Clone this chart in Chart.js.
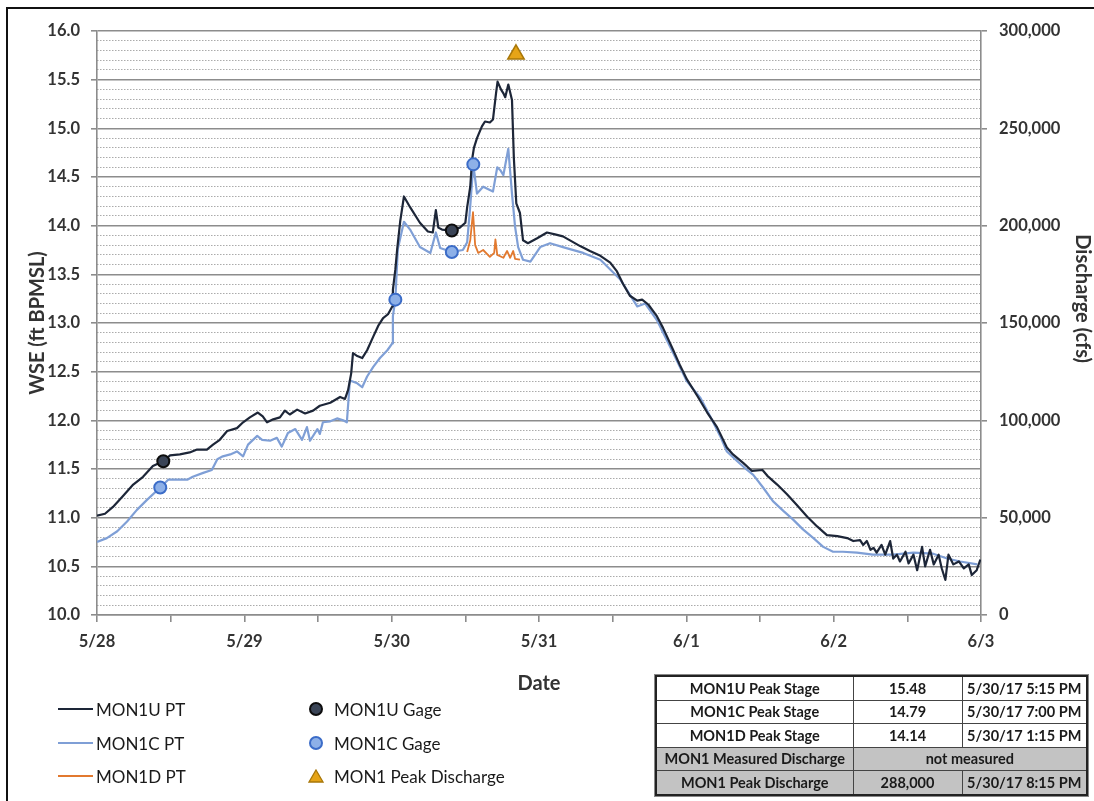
<!DOCTYPE html>
<html>
<head>
<meta charset="utf-8">
<title>MON1 Stage and Discharge</title>
<script src="https://cdn.jsdelivr.net/npm/chart.js@4.4.1/dist/chart.umd.min.js"></script>
<style>
  body { margin: 0; background: #fff; font-family: Lato, "Open Sans", sans-serif; }
  #wrap { position: relative; width: 1094px; height: 801px; overflow: hidden; background: #fff; }
  #frame { position: absolute; left: 6px; top: 7px; width: 1200px; height: 900px; border: 2.5px solid #111; box-sizing: border-box; }
  #chart { position: absolute; left: 0; top: 0; }
  .leg { position: absolute; height: 22px; display: flex; align-items: center; font-size: 17px; color: #1a1a1a; white-space: nowrap; }
  .leg .swatch { display: inline-block; }
  #peaks { position: absolute; left: 655px; top: 675px; width: 433px; border-collapse: collapse; border: 2.5px solid #222; box-shadow: 0 0 0 1px #888; font-size: 14.5px; font-weight: bold; color: #1a1a1a; }
  #peaks td { border: 1px solid #444; height: 22.5px; padding: 0; text-align: center; }
  #peaks tr.shade td { background: #c3c3c3; }
</style>
</head>
<body>
<div id="wrap">
  <div id="frame"></div>
  <canvas id="chart" width="1094" height="700"></canvas>
  <div id="legend"></div>
  <table id="peaks"></table>
</div>
<script>
// Hours since 5/28/17 00:00, water surface elevation (ft BPMSL)
const mon1uHours = [0, 1.3, 2.6, 4.2, 5.9, 7.5, 9.1, 10.8, 11.9, 13.5, 15.1, 16.3, 17.9, 18.9, 20.0, 21.2, 22.8, 23.8,
  24.9, 26.2, 27.0, 27.7, 28.7, 29.8, 30.6, 31.4, 32.6, 33.9, 35.2, 36.3, 38.0, 39.6, 40.4, 40.9, 41.4, 41.7, 42.4,
  43.2, 44.0, 45.0, 45.8, 46.6, 47.4, 48.1, 48.2, 48.6, 48.9, 49.4, 50.0, 51.0, 52.6, 53.9, 54.7, 55.2, 55.6, 56.2,
  57.8, 59.1, 60.0, 60.3, 60.8, 61.1, 61.4, 61.9, 62.7, 63.2, 64.0, 64.5, 65.0, 65.25, 65.8, 66.2, 66.5, 67.0, 67.6,
  67.9, 68.3, 68.9, 69.4, 70.2, 71.7, 73.3, 74.6, 75.9, 78.7, 80.3, 82.0, 83.6, 84.7, 85.7, 86.8, 88.0, 88.8, 89.8,
  91.2, 92.2, 93.8, 95.0, 96.1, 97.8, 99.4, 101.0, 102.6, 103.6, 105.3, 106.7, 108.4, 109.2, 110.8, 112.4, 114.0,
  115.7, 117.3, 118.9, 120.6, 122.2, 123.2, 124.3, 124.8, 125.4, 126.0, 126.5, 127.0, 127.8, 128.4, 129.2, 129.7,
  130.3, 130.8, 131.7, 132.2, 133.0, 133.6, 134.4, 134.9, 135.7, 136.3, 137.1, 137.6, 138.2, 138.7, 139.5, 140.4,
  141.2, 142.0, 142.5, 143.3, 143.9];
const mon1uWse = [11.02, 11.04, 11.11, 11.22, 11.34, 11.42, 11.53, 11.58, 11.64, 11.65, 11.67, 11.70, 11.70, 11.75,
  11.80, 11.89, 11.92, 11.98, 12.03, 12.08, 12.04, 11.98, 12.01, 12.03, 12.10, 12.06, 12.11, 12.07, 12.10, 12.15,
  12.18, 12.24, 12.22, 12.31, 12.48, 12.69, 12.66, 12.64, 12.72, 12.86, 12.97, 13.05, 13.09, 13.17, 13.34, 13.55,
  13.76, 14.05, 14.30, 14.19, 14.03, 13.94, 13.93, 14.16, 13.98, 13.96, 13.95, 13.98, 14.03, 14.19, 14.40, 14.68,
  14.80, 14.90, 15.02, 15.07, 15.06, 15.09, 15.36, 15.48, 15.40, 15.36, 15.32, 15.45, 15.29, 14.70, 14.23, 14.13,
  13.85, 13.82, 13.87, 13.93, 13.91, 13.89, 13.79, 13.74, 13.69, 13.62, 13.53, 13.40, 13.28, 13.23, 13.24, 13.19,
  13.07, 12.95, 12.73, 12.56, 12.42, 12.25, 12.08, 11.93, 11.72, 11.65, 11.56, 11.48, 11.49, 11.43, 11.34, 11.24,
  11.13, 11.01, 10.91, 10.82, 10.81, 10.79, 10.76, 10.77, 10.72, 10.76, 10.67, 10.69, 10.64, 10.72, 10.62, 10.76,
  10.58, 10.62, 10.55, 10.65, 10.53, 10.62, 10.46, 10.70, 10.50, 10.67, 10.52, 10.62, 10.48, 10.36, 10.62, 10.52,
  10.55, 10.48, 10.52, 10.41, 10.46, 10.57];

const mon1cHours = [0, 1.6, 3.3, 4.9, 6.5, 8.1, 10.3, 11.6, 13.0, 14.7, 15.6, 17.3, 18.7, 19.6, 20.5, 21.7, 22.8, 23.8,
  24.6, 26.1, 26.9, 28.2, 29.3, 30.1, 31.1, 32.3, 33.4, 34.2, 34.7, 35.9, 36.3, 36.8, 38.0, 39.1, 40.1, 40.7, 41.2,
  42.4, 43.2, 44.0, 45.0, 46.1, 47.3, 48.1, 48.2, 48.6, 49.0, 50.0, 51.0, 52.6, 54.3, 55.2, 55.9, 57.8, 59.6, 60.3,
  60.8, 61.3, 61.9, 62.9, 64.5, 65.2, 65.7, 66.2, 67.0, 67.6, 68.1, 68.6, 69.4, 70.6, 72.2, 73.8, 75.9, 79.2, 82.0,
  85.2, 88.0, 89.3, 91.2, 93.8, 96.1, 98.3, 99.9, 101.5, 102.6, 104.3, 105.9, 106.9, 108.5, 110.1, 111.8, 113.4,
  115.0, 116.7, 118.3, 119.9, 121.5, 123.8, 126.4, 129.7, 133.0, 136.2, 138.5, 140.6, 143.4];
const mon1cWse = [10.75, 10.79, 10.86, 10.96, 11.08, 11.18, 11.31, 11.39, 11.39, 11.39, 11.42, 11.46, 11.49, 11.60,
  11.63, 11.65, 11.68, 11.63, 11.75, 11.84, 11.80, 11.79, 11.82, 11.73, 11.87, 11.91, 11.80, 11.93, 11.79, 11.91,
  11.86, 11.98, 11.99, 12.02, 12.00, 11.98, 12.41, 12.38, 12.34, 12.45, 12.55, 12.64, 12.72, 12.79, 13.07, 13.24,
  13.76, 14.04, 13.96, 13.78, 13.72, 13.93, 13.77, 13.73, 13.75, 13.83, 14.20, 14.63, 14.33, 14.40, 14.35, 14.60,
  14.57, 14.52, 14.79, 14.33, 13.99, 13.78, 13.65, 13.63, 13.78, 13.82, 13.78, 13.72, 13.65, 13.45, 13.17, 13.20,
  13.03, 12.70, 12.40, 12.23, 12.04, 11.84, 11.68, 11.58, 11.49, 11.44, 11.31, 11.17, 11.07, 10.98, 10.88, 10.79,
  10.70, 10.65, 10.65, 10.64, 10.62, 10.62, 10.64, 10.63, 10.58, 10.55, 10.52];

const mon1dHours = [60.3, 60.8, 61.25, 61.6, 62.1, 62.9, 64.0, 64.7, 64.9, 65.2, 66.2, 66.8, 67.3, 67.8, 68.1, 68.9];
const mon1dWse = [13.73, 13.85, 14.14, 13.80, 13.72, 13.75, 13.68, 13.72, 13.86, 13.70, 13.67, 13.74, 13.67, 13.74,
  13.66, 13.65];

// Gage readings
const gageUHours = [10.8, 57.8];
const gageUWse = [11.58, 13.95];
const gageCHours = [10.3, 48.6, 57.8, 61.3];
const gageCWse = [11.31, 13.24, 13.73, 14.63];

// Peak discharge (cfs)
const peakQHours = [68.25];
const peakQ = [288000];

const dateLabels = ['5/28', '5/29', '5/30', '5/31', '6/1', '6/2', '6/3'];

const NAVY = '#1d2638';
const STEEL = '#7f9fd6';
const ORANGE = '#e2792f';
const GRID = '#8c8c8c';
const TICK_TEXT = '#333';
const TITLE_FONT = { size: 20, weight: 'bold' };
const TICK_FONT = { size: 16.5, weight: 'bold' };

const toPoints = (xs, ys) => xs.map((x, i) => ({ x, y: ys[i] }));
const isHalf = v => Math.abs(v * 2 - Math.round(v * 2)) < 1e-6;

// --- CHART ---
const ctx = document.getElementById('chart').getContext('2d');
Chart.defaults.font.family = 'Lato, "Open Sans", sans-serif';

new Chart(ctx, {
  type: 'line',
  data: {
    datasets: [
      { label: 'MON1 Peak Discharge', data: toPoints(peakQHours, peakQ), yAxisID: 'y2', showLine: false,
        pointStyle: 'triangle', pointRadius: 9.5, backgroundColor: '#e6a417', borderColor: '#a87709', borderWidth: 1.5, order: 0 },
      { label: 'MON1U Gage', data: toPoints(gageUHours, gageUWse), yAxisID: 'y', showLine: false,
        pointRadius: 6, backgroundColor: '#3a4456', borderColor: '#0d0d0d', borderWidth: 2, order: 1 },
      { label: 'MON1C Gage', data: toPoints(gageCHours, gageCWse), yAxisID: 'y', showLine: false,
        pointRadius: 6, backgroundColor: '#8db0e8', borderColor: '#3b6cc8', borderWidth: 2, order: 2 },
      { label: 'MON1D PT', data: toPoints(mon1dHours, mon1dWse), yAxisID: 'y',
        borderColor: ORANGE, borderWidth: 1.8, pointRadius: 0, order: 3 },
      { label: 'MON1U PT', data: toPoints(mon1uHours, mon1uWse), yAxisID: 'y',
        borderColor: NAVY, borderWidth: 2.2, pointRadius: 0, order: 4 },
      { label: 'MON1C PT', data: toPoints(mon1cHours, mon1cWse), yAxisID: 'y',
        borderColor: STEEL, borderWidth: 2.2, pointRadius: 0, order: 5 }
    ]
  },
  options: {
    responsive: false,
    animation: false,
    layout: { padding: { top: 31, left: 0, right: 0, bottom: 0 } },
    plugins: { legend: { display: false }, tooltip: { enabled: false } },
    elements: { line: { tension: 0, borderJoinStyle: 'round' } },
    scales: {
      x: {
        type: 'linear', min: 0, max: 144,
        ticks: { stepSize: 12, autoSkip: false, maxRotation: 0, padding: 10, color: TICK_TEXT, font: TICK_FONT,
          callback: v => (v % 24 === 0 ? dateLabels[v / 24] : '') },
        grid: { drawOnChartArea: false, tickLength: 7, color: GRID, lineWidth: 1.6 },
        border: { color: GRID, width: 1.6 },
        title: { display: true, text: 'Date', color: '#333', font: TITLE_FONT, padding: { top: 0, bottom: 4 } },
        afterFit: s => { s.height = 85; }
      },
      y: {
        type: 'linear', position: 'left', min: 10, max: 16,
        ticks: { stepSize: 0.5, padding: 11, color: TICK_TEXT, font: TICK_FONT, callback: v => v.toFixed(1) },
        grid: { color: GRID, lineWidth: 1.6, tickLength: 6 },
        border: { color: GRID, width: 1.6 },
        title: { display: true, text: 'WSE (ft BPMSL)', color: '#333', font: TITLE_FONT, padding: { top: 26, bottom: 0 } },
        afterFit: s => { s.width = 97; }
      },
      // dotted tenth-of-a-foot lines between the half-foot grid
      yMinor: {
        type: 'linear', position: 'left', min: 10, max: 16,
        ticks: { display: false, stepSize: 0.1 },
        grid: { drawTicks: false, lineWidth: 1,
          color: c => (c.tick && !isHalf(c.tick.value) ? '#ababab' : 'rgba(0,0,0,0)') },
        border: { display: false, dash: [1.5, 1.5] },
        afterFit: s => { s.width = 0; }
      },
      y2: {
        type: 'linear', position: 'right', min: 0, max: 300000,
        ticks: { stepSize: 50000, padding: 12, color: TICK_TEXT, font: TICK_FONT,
          callback: v => v.toLocaleString('en-US') },
        grid: { drawOnChartArea: false, tickLength: 6, color: GRID, lineWidth: 1.6 },
        border: { color: GRID, width: 1.6 },
        // trailing no-break spaces lift the centred title a little toward the top
        title: { display: true, text: 'Discharge (cfs)' + '\u00a0'.repeat(10), color: '#333', font: TITLE_FONT,
          padding: { top: 0, bottom: 0 } },
        afterFit: s => { s.width = 113; }
      }
    }
  }
});

// --- LEGEND ---
const legendItems = [
  { text: 'MON1U PT', kind: 'line', color: NAVY, left: 58, top: 709 },
  { text: 'MON1C PT', kind: 'line', color: STEEL, left: 58, top: 743 },
  { text: 'MON1D PT', kind: 'line', color: ORANGE, left: 58, top: 776 },
  { text: 'MON1U Gage', kind: 'circle', fill: '#3a4456', stroke: '#0d0d0d', left: 309, top: 709 },
  { text: 'MON1C Gage', kind: 'circle', fill: '#8db0e8', stroke: '#3b6cc8', left: 309, top: 743 },
  { text: 'MON1 Peak Discharge', kind: 'triangle', fill: '#e6a417', stroke: '#a87709', left: 308, top: 776 }
];
const legendEl = document.getElementById('legend');
legendItems.forEach(item => {
  const row = document.createElement('div');
  row.className = 'leg';
  row.style.left = item.left + 'px';
  row.style.top = (item.top - 11) + 'px';
  let swatch;
  if (item.kind === 'line') {
    swatch = `<span class="swatch" style="width:35px;height:2.5px;background:${item.color};margin-right:3px"></span>`;
  } else if (item.kind === 'circle') {
    swatch = `<span class="swatch" style="width:10px;height:10px;border-radius:50%;background:${item.fill};border:2px solid ${item.stroke};margin-right:11px"></span>`;
  } else {
    swatch = `<svg width="16" height="14" style="margin-right:10px"><polygon points="8,1 15,13 1,13" fill="${item.fill}" stroke="${item.stroke}" stroke-width="1.3"/></svg>`;
  }
  row.innerHTML = swatch + `<span>${item.text}</span>`;
  legendEl.appendChild(row);
});

// --- PEAK TABLE ---
const fmtTime = hours => {
  const d = new Date(Date.UTC(2017, 4, 28) + Math.round(hours * 60) * 60000);
  let h = d.getUTCHours();
  const ampm = h >= 12 ? 'PM' : 'AM';
  h = h % 12 || 12;
  const m = String(d.getUTCMinutes()).padStart(2, '0');
  return `${d.getUTCMonth() + 1}/${d.getUTCDate()}/17 ${h}:${m} ${ampm}`;
};
const peakOf = (hours, vals) => {
  let k = 0;
  vals.forEach((v, i) => { if (v > vals[k]) k = i; });
  return { value: vals[k], time: hours[k] };
};
const stageRows = [
  ['MON1U Peak Stage', peakOf(mon1uHours, mon1uWse)],
  ['MON1C Peak Stage', peakOf(mon1cHours, mon1cWse)],
  ['MON1D Peak Stage', peakOf(mon1dHours, mon1dWse)]
];
const q = peakOf(peakQHours, peakQ);
let html = '<colgroup><col style="width:197px"><col style="width:109px"><col></colgroup>';
stageRows.forEach(([name, p]) => {
  html += `<tr><td>${name}</td><td>${p.value.toFixed(2)}</td><td>${fmtTime(p.time)}</td></tr>`;
});
html += '<tr class="shade"><td>MON1 Measured Discharge</td><td colspan="2">not measured</td></tr>';
html += `<tr class="shade"><td>MON1 Peak Discharge</td><td>${q.value.toLocaleString('en-US')}</td><td>${fmtTime(q.time)}</td></tr>`;
document.getElementById('peaks').innerHTML = html;
</script>
</body>
</html>
